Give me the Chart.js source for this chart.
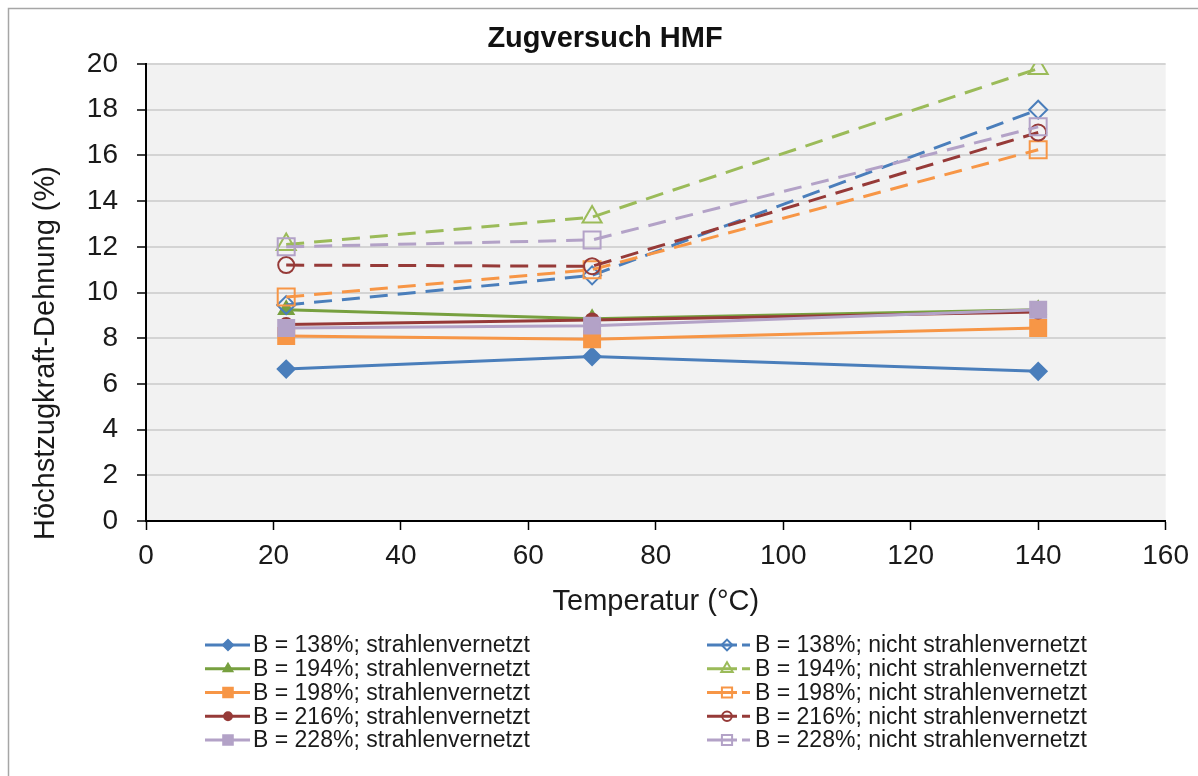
<!DOCTYPE html>
<html>
<head>
<meta charset="utf-8">
<script src="https://cdn.jsdelivr.net/npm/chart.js@4.4.1/dist/chart.umd.min.js"></script>
<style>
  html, body { margin: 0; padding: 0; background: #fff; }
  #wrap { width: 1198px; height: 776px; }
</style>
</head>
<body>
<div id="wrap"><canvas id="zug" width="1198" height="776"></canvas></div>
<script>
// Daten
const temperatur = [22, 70, 140];

const b138_strahl = [6.65, 7.2, 6.55];
const b194_strahl = [9.25, 8.85, 9.25];
const b198_strahl = [8.1, 7.95, 8.45];
const b216_strahl = [8.6, 8.8, 9.15];
const b228_strahl = [8.45, 8.55, 9.25];

const b138_nicht = [9.45, 10.75, 18.0];
const b194_nicht = [12.1, 13.3, 19.8];
const b198_nicht = [9.8, 11.0, 16.25];
const b216_nicht = [11.2, 11.15, 17.0];
const b228_nicht = [12.0, 12.3, 17.25];

const namen = [
  'B = 138%; strahlenvernetzt', 'B = 194%; strahlenvernetzt', 'B = 198%; strahlenvernetzt',
  'B = 216%; strahlenvernetzt', 'B = 228%; strahlenvernetzt',
  'B = 138%; nicht strahlenvernetzt', 'B = 194%; nicht strahlenvernetzt', 'B = 198%; nicht strahlenvernetzt',
  'B = 216%; nicht strahlenvernetzt', 'B = 228%; nicht strahlenvernetzt'
];
const werte = [b138_strahl, b194_strahl, b198_strahl, b216_strahl, b228_strahl,
               b138_nicht, b194_nicht, b198_nicht, b216_nicht, b228_nicht];

const xTicks = [0, 20, 40, 60, 80, 100, 120, 140, 160];
const yTicks = [0, 2, 4, 6, 8, 10, 12, 14, 16, 18, 20];

const titel = 'Zugversuch HMF';
const xTitel = 'Temperatur (°C)';
const yTitel = 'Höchstzugkraft-Dehnung (%)';

// Stil
const FONT = '"Liberation Sans", Arial, sans-serif';
const farbenStrahl = ['#4A7EBB', '#77A03F', '#F79646', '#963A38', '#B3A2C7'];
const farbenNicht  = ['#4A7EBB', '#9BBB59', '#F79646', '#963A38', '#B3A2C7'];
const symbole = ['rectRot', 'triangle', 'rect', 'circle', 'rect'];
const radStrahl = [8.5, 8.5, 11.3, 6.5, 11.3];
const radNicht  = [9, 11, 12, 8, 12];

const datasets = werte.map((vals, i) => {
  const k = i % 5;
  const nicht = i >= 5;
  const farbe = nicht ? farbenNicht[k] : farbenStrahl[k];
  return {
    label: namen[i],
    data: temperatur.map((t, j) => ({ x: t, y: vals[j] })),
    borderColor: farbe,
    backgroundColor: farbe,
    borderWidth: 3,
    borderDash: nicht ? [18, 10] : [],
    tension: 0,
    pointStyle: symbole[k],
    pointRadius: nicht ? radNicht[k] : radStrahl[k],
    pointBorderWidth: 2,
    pointBorderColor: farbe,
    pointBackgroundColor: nicht ? 'rgba(0,0,0,0)' : farbe,
    order: -i
  };
});

// Hintergrund, Rahmen, graue Zeichenfläche, Titel
const hintergrund = {
  id: 'hintergrund',
  beforeDraw(chart) {
    const { ctx, chartArea: a } = chart;
    ctx.save();
    ctx.fillStyle = '#fff';
    ctx.fillRect(0, 0, chart.width, chart.height);
    ctx.strokeStyle = '#a6a6a6';
    ctx.lineWidth = 1.5;
    ctx.strokeRect(8.5, 8.5, 1400, 1400);
    ctx.fillStyle = '#f2f2f2';
    ctx.fillRect(a.left, a.top, a.right - a.left, a.bottom - a.top);

    ctx.fillStyle = '#111';
    ctx.font = 'bold 29px ' + FONT;
    ctx.textAlign = 'center';
    ctx.textBaseline = 'middle';
    ctx.fillText(titel, 605, 39);

    // y-Achsentitel (in Excel etwas nach unten versetzt)
    ctx.fillStyle = '#1a1a1a';
    ctx.font = '29px ' + FONT;
    ctx.translate(46, 540);
    ctx.rotate(-Math.PI / 2);
    ctx.textAlign = 'left';
    ctx.fillText(yTitel, 0, 0);
    ctx.restore();
  }
};

// Legende in zwei Spalten
const legende = {
  id: 'legende',
  afterDraw(chart) {
    const ctx = chart.ctx;
    chart.data.datasets.forEach((ds, i) => {
      const col = Math.floor(i / 5), row = i % 5;
      const y = 645 + row * 23.75;
      ctx.save();
      ctx.strokeStyle = ds.borderColor;
      ctx.lineWidth = 3;
      ctx.beginPath();
      let mx, tx;
      if (col === 0) {
        ctx.moveTo(205, y); ctx.lineTo(250, y);
        mx = 228; tx = 253;
      } else {
        ctx.moveTo(707, y); ctx.lineTo(737, y);
        ctx.moveTo(742, y); ctx.lineTo(750, y);
        mx = 727; tx = 755;
      }
      ctx.stroke();
      ctx.fillStyle = ds.pointBackgroundColor;
      ctx.lineWidth = 2;
      Chart.helpers.drawPoint(ctx, {
        pointStyle: ds.pointStyle,
        radius: ds.pointRadius * 0.6,
        rotation: 0,
        borderWidth: 2
      }, mx, y);
      ctx.fillStyle = '#1a1a1a';
      ctx.font = '23px ' + FONT;
      ctx.textBaseline = 'middle';
      ctx.textAlign = 'left';
      ctx.fillText(ds.label, tx, y + 1);
      ctx.restore();
    });
  }
};

new Chart(document.getElementById('zug'), {
  type: 'line',
  data: { datasets },
  plugins: [hintergrund, legende],
  options: {
    responsive: false,
    animation: false,
    devicePixelRatio: 1,
    layout: { padding: { left: 0, right: 32, top: 64, bottom: 155 } },
    plugins: {
      legend: { display: false },
      tooltip: { enabled: false },
      title: { display: false }
    },
    scales: {
      x: {
        type: 'linear',
        min: xTicks[0],
        max: xTicks[xTicks.length - 1],
        afterBuildTicks: s => { s.ticks = xTicks.map(v => ({ value: v })); },
        ticks: { color: '#1a1a1a', font: { family: FONT, size: 28 }, padding: 9, maxRotation: 0 },
        grid: { drawOnChartArea: false, drawTicks: true, tickLength: 9, tickColor: '#000', tickWidth: 1.5 },
        border: { color: '#000', width: 2 },
        title: {
          display: true,
          text: xTitel,
          color: '#1a1a1a',
          font: { family: FONT, size: 29 },
          padding: { top: 0, bottom: 2 }
        },
        afterFit: s => { s.height = 100; }
      },
      y: {
        min: yTicks[0],
        max: yTicks[yTicks.length - 1],
        afterBuildTicks: s => { s.ticks = yTicks.map(v => ({ value: v })); },
        ticks: { color: '#1a1a1a', font: { family: FONT, size: 28 }, padding: 19 },
        grid: { color: '#d4d4d4', lineWidth: 2, drawTicks: true, tickLength: 9, tickColor: '#000', tickWidth: 1.5 },
        border: { color: '#000', width: 2 },
        afterFit: s => { s.width = 146; }
      }
    }
  }
});
</script>
</body>
</html>
